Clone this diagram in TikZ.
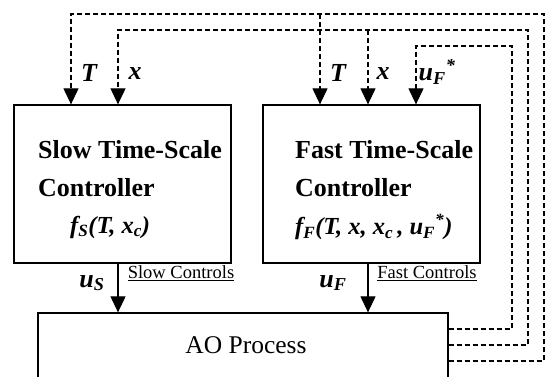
\documentclass[tikz,border=0pt]{standalone}
\usepackage{fontspec}
\setmainfont{Liberation Serif}
\usetikzlibrary{arrows.meta}
\newcommand\sbx[1]{\textsubscript{#1}}
\newcommand\spx[1]{\textsuperscript{#1}}
\begin{document}
\begin{tikzpicture}[x=1pt,y=-1pt,
  box/.style={draw,line width=1.3pt,rectangle,inner sep=0pt},
  fb/.style={line width=1.1pt,dash pattern=on 5pt off 3pt},
  tipx/.style={-{Triangle[width=15pt,length=16pt]}},
  ctl/.style={line width=1.1pt},
  title/.style={anchor=west,inner sep=0pt,font=\fontsize{26}{30}\selectfont\bfseries},
  fun/.style={anchor=west,inner sep=0pt,font=\fontsize{24.5}{28}\selectfont\bfseries\itshape},
  lab/.style={inner sep=0pt,font=\fontsize{26}{30}\selectfont\bfseries\itshape},
  ctrl/.style={inner sep=0pt,font=\fontsize{18.5}{22}\selectfont}]
\clip (0,0) rectangle (551,376);
\fill[white] (0,0) rectangle (551,376);
% boxes
\node[box,minimum width=217pt,minimum height=158pt] (slow) at (122.5,184) {};
\node[box,minimum width=217pt,minimum height=158pt] (fast) at (371.5,184) {};
\node[box,minimum width=410pt,minimum height=90pt] (ao) at (243,358) {};
\node[inner sep=0pt,font=\fontsize{25.5}{28}\selectfont] (aot) at (246,345) {AO Process};
% texts
\node[title] (s1) at (38,150) {Slow Time-Scale};
\node[title] (s2) at (38,188) {Controller};
\node[fun] (s3) at (70,227) {f\sbx{S}(T, x\sbx{c})};
\node[title] (f1) at (295,150) {Fast Time-Scale};
\node[title] (f2) at (295,188) {Controller};
\node[fun] (f3) at (295,227) {f\sbx{F}(T, x, x\sbx{c}\,, u\sbx{F}\spx{*})};
% column coordinates
\coordinate (cT1) at (71,0);
\coordinate (cx1) at (118,0);
\coordinate (cT2) at (320,0);
\coordinate (cx2) at (368,0);
\coordinate (cu2) at (416,0);
\coordinate (rT) at (0,361);
\coordinate (rx) at (0,345);
\coordinate (ru) at (0,329);
% feedback lines
\draw[fb,tipx] (ao.east |- rT) -| (544,14) -| (slow.north -| cT1);
\draw[fb,tipx] (320,14) -- (fast.north -| cT2);
\draw[fb,tipx] (ao.east |- rx) -| (528,30) -| (slow.north -| cx1);
\draw[fb,tipx] (368,30) -- (fast.north -| cx2);
\draw[fb,tipx] (ao.east |- ru) -| (512,46) -| (fast.north -| cu2);
% input labels
\node[lab] (lT1) at (89,73) {T};
\node[lab] (lx1) at (135,74) {x};
\node[lab] (lT2) at (338,73) {T};
\node[lab] (lx2) at (383,74) {x};
\node[lab] (lu2) at (437,72) {u\sbx{F}\spx{*}};
% control arrows
\draw[ctl,tipx] (slow.south -| cx1) -- (ao.north -| cx1);
\draw[ctl,tipx] (fast.south -| cx2) -- (ao.north -| cx2);
\node[lab] (us) at (92,283) {u\sbx{S}};
\node[lab] (uf) at (333,283) {u\sbx{F}};
\node[ctrl] (sc) at (181,273) {\underline{Slow Controls}};
\node[ctrl] (fc) at (427,273) {\underline{Fast Controls}};
\end{tikzpicture}
\end{document}
